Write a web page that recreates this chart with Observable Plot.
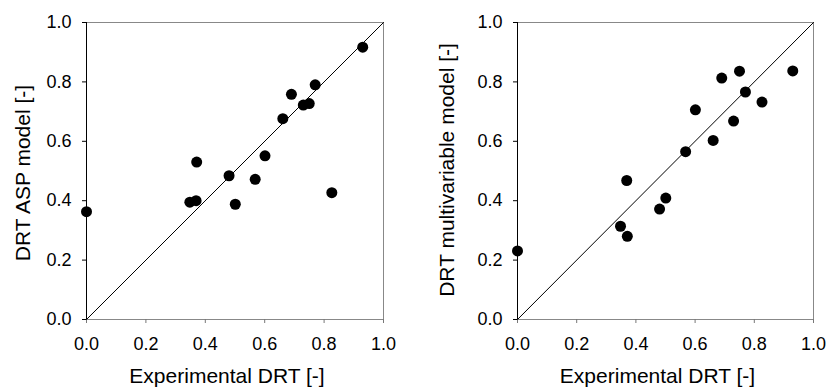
<!DOCTYPE html>
<html>
<head>
<meta charset="utf-8">
<script src="https://cdn.jsdelivr.net/npm/d3@7"></script>
<script src="https://cdn.jsdelivr.net/npm/@observablehq/plot@0.6"></script>
<style>
  body { margin: 0; background: #fff; }
  #wrap { display: flex; width: 831px; height: 389px; }
  svg { font-family: "Liberation Sans", Arial, sans-serif; }
</style>
</head>
<body>
<div id="wrap"></div>
<script>
const experimental = [0, 0.348, 0.369, 0.371, 0.48, 0.501, 0.568, 0.601, 0.661, 0.69, 0.73, 0.75, 0.77, 0.826, 0.93];
const aspModel = [0.363, 0.395, 0.400, 0.530, 0.484, 0.388, 0.472, 0.551, 0.676, 0.758, 0.722, 0.727, 0.790, 0.427, 0.917];
const multiModel = [0.231, 0.314, 0.468, 0.280, 0.372, 0.409, 0.565, 0.706, 0.603, 0.813, 0.668, 0.836, 0.766, 0.732, 0.837];
const tickValues = [0, 0.2, 0.4, 0.6, 0.8, 1.0];
const identity = [0, 1];
const xLabel = "Experimental DRT [-]";
const yLabels = ["DRT ASP model [-]", "DRT multivariable model [-]"];

function panel(yValues, yLabel, opts) {
  const data = experimental.map((x, i) => ({x, y: yValues[i]}));
  return Plot.plot({
    width: opts.width,
    height: 389,
    marginLeft: opts.marginLeft,
    marginRight: opts.marginRight,
    marginTop: 22,
    marginBottom: 70,
    x: {domain: [0, 1]},
    y: {domain: [0, 1]},
    style: {fontFamily: "Liberation Sans, Arial, sans-serif", fontSize: "18px", color: "black", background: "white"},
    marks: [
      Plot.frame({stroke: "#888"}),
      Plot.ruleX([0], {stroke: "black"}),
      Plot.axisX({ticks: tickValues, tickFormat: d3.format(".1f"), tickSize: 4, tickPadding: 14, fontSize: 18, label: null, stroke: "#777"}),
      Plot.axisY({ticks: tickValues, tickFormat: d3.format(".1f"), tickSize: 4, tickPadding: 11, fontSize: 18, label: null, stroke: "black"}),
      Plot.line(identity, {x: d => d, y: d => d, stroke: "black", strokeWidth: 1}),
      Plot.dot(data, {x: "x", y: "y", r: 5.5, fill: "black", stroke: "none"}),
      Plot.text([xLabel], {frameAnchor: "bottom", textAnchor: "middle", lineAnchor: "middle", dy: 57, dx: -8, fontSize: 21, fill: "black"}),
      Plot.text([yLabel], {frameAnchor: "left", textAnchor: "middle", lineAnchor: "middle", rotate: -90, dx: opts.yLabelDx, dy: opts.yLabelDy, fontSize: 21, fill: "black"})
    ]
  });
}

const wrap = document.getElementById("wrap");
wrap.appendChild(panel(aspModel, yLabels[0], {width: 415, marginLeft: 86, marginRight: 32, yLabelDx: -63, yLabelDy: 2}));
wrap.appendChild(panel(multiModel, yLabels[1], {width: 416, marginLeft: 102, marginRight: 18, yLabelDx: -70, yLabelDy: -1}));
</script>
</body>
</html>
